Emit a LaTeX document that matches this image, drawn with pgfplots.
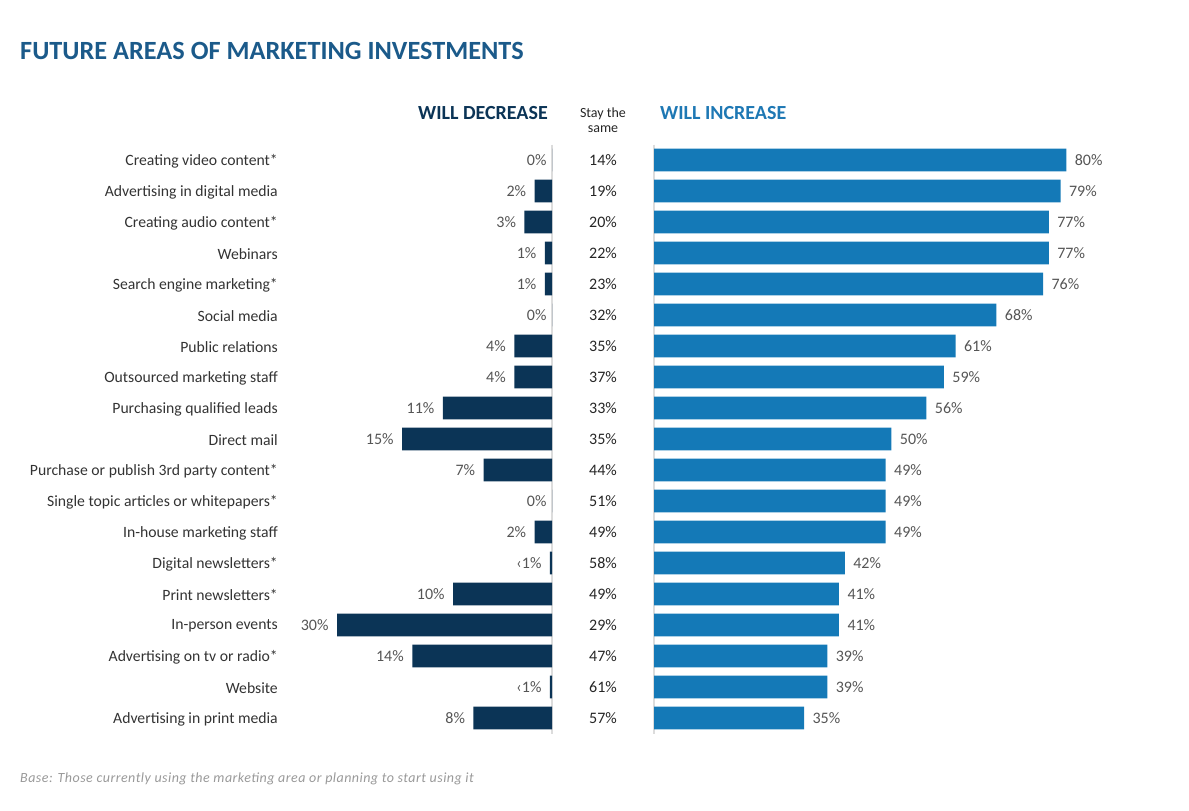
\documentclass[border=0pt]{standalone}
\usepackage{fontspec}
\setmainfont{Carlito}
\usepackage{pgfplots}
\usepackage{pgfplotstable}
\pgfplotsset{compat=1.18}
\definecolor{titlec}{HTML}{1B5A8A}
\definecolor{decc}{HTML}{0B3456}
\definecolor{incc}{HTML}{1479B7}
\definecolor{inch}{HTML}{1E78B4}
\definecolor{catc}{HTML}{333333}
\definecolor{pctc}{HTML}{555555}
\definecolor{midc}{HTML}{262626}
\definecolor{linec}{HTML}{DCDCDC}

\pgfplotstableread[col sep=comma]{
row,cat,dec,declab,same,inc
1,Creating video content*,0,0,14,80
2,Advertising in digital media,2,2,19,79
3,Creating audio content*,3,3,20,77
4,Webinars,1,1,22,77
5,Search engine marketing*,1,1,23,76
6,Social media,0,0,32,68
7,Public relations,4,4,35,61
8,Outsourced marketing staff,4,4,37,59
9,Purchasing qualified leads,11,11,33,56
10,Direct mail,15,15,35,50
11,Purchase or publish 3rd party content*,7,7,44,49
12,Single topic articles or whitepapers*,0,0,51,49
13,In-house marketing staff,2,2,49,49
14,Digital newsletters*,0.5,‹1,58,42
15,Print newsletters*,10,10,49,41
16,In-person events,30,30,29,41
17,Advertising on tv or radio*,14,14,47,39
18,Website,0.5,‹1,61,39
19,Advertising in print media,8,8,57,35
}\data

\pgfplotsset{
  rows/.style={scale only axis, height=589bp, ymin=0.5, ymax=19.5, y dir=reverse,
    axis line style={draw=none}, tick style={draw=none}, xtick=\empty, ytick=\empty,
    anchor=north west},
  decgeom/.style={rows, at={(337bp,-144.5bp)}, width=215bp, xmin=-21.38, xmax=-0.3},
  incgeom/.style={rows, at={(654bp,-144.5bp)}, width=496bp, xmin=9.27, xmax=94.35},
}

\begin{document}
\begin{tikzpicture}
\path[use as bounding box] (0,0) rectangle (1189bp,-811bp);

% decrease bars + category labels
\begin{axis}[decgeom,
  ytick={1,...,19}, yticklabels from table={\data}{cat},
  yticklabel style={anchor=east, inner sep=0pt, xshift=-59bp, yshift=-1bp, text=catc,
    font=\fontsize{15.7bp}{18bp}\selectfont},
  extra x ticks={-0.3}, extra x tick labels={},
  extra x tick style={grid=major, major grid style={draw=linec, line width=1.2bp}}]
\addplot[xbar, bar width=22.6bp, fill=decc, draw=none] table[x expr=-\thisrow{dec}, y=row]{\data};
\end{axis}
% decrease labels
\begin{axis}[decgeom, clip=false]
\addplot[draw=none, mark=none, x filter/.expression={max(x,-21.38)},
  nodes near coords={\pgfplotspointmeta\%}, point meta=explicit symbolic,
  every node near coord/.append style={anchor=east, xshift=-5bp, text=pctc,
    font=\fontsize{16bp}{18bp}\selectfont}]
  table[x expr=-\thisrow{dec}, y=row, meta=declab]{\data};
\end{axis}

% stay the same column
\begin{axis}[rows, at={(560bp,-144.5bp)}, width=86bp, xmin=0, xmax=1, clip=false]
\addplot[draw=none, mark=none,
  nodes near coords={\pgfplotspointmeta\%}, point meta=explicit symbolic,
  every node near coord/.append style={anchor=center, text=midc,
    font=\fontsize{16bp}{18bp}\selectfont}]
  table[x expr=0.5, y=row, meta=same]{\data};
\end{axis}

% increase bars
\begin{axis}[incgeom,
  extra x ticks={9.27}, extra x tick labels={},
  extra x tick style={grid=major, major grid style={draw=linec, line width=1.2bp}}]
\addplot[xbar, bar width=22.6bp, fill=incc, draw=none] table[x=inc, y=row]{\data};
\end{axis}
\begin{axis}[incgeom, clip=false]
\addplot[draw=none, mark=none,
  nodes near coords={\pgfplotspointmeta\%}, point meta=explicit symbolic,
  every node near coord/.append style={anchor=west, xshift=5bp, text=pctc,
    font=\fontsize{16bp}{18bp}\selectfont}]
  table[x=inc, y=row, meta=inc]{\data};
\end{axis}

% titles and headers
\node[anchor=base west, inner sep=0pt, text=titlec, font=\fontsize{26.3bp}{30bp}\selectfont\bfseries]
  at (20bp,-59bp) {FUTURE AREAS OF MARKETING INVESTMENTS};
\node[anchor=base east, inner sep=0pt, text=decc, font=\fontsize{20bp}{22bp}\selectfont\bfseries]
  at (548bp,-119bp) {WILL DECREASE};
\node[anchor=base west, inner sep=0pt, text=inch, font=\fontsize{20bp}{22bp}\selectfont\bfseries]
  at (660bp,-119bp) {WILL INCREASE};
\node[anchor=center, inner sep=0pt, align=center, text=midc, font=\fontsize{14bp}{15bp}\selectfont]
  at (603bp,-120bp) {Stay the\\same};
\node[anchor=base west, inner sep=0pt, text=black!40, font=\fontsize{14bp}{16bp}\selectfont\itshape\addfontfeature{LetterSpace=3.4}]
  at (20bp,-782bp) {Base: Those currently using the marketing area or planning to start using it};
\end{tikzpicture}
\end{document}
